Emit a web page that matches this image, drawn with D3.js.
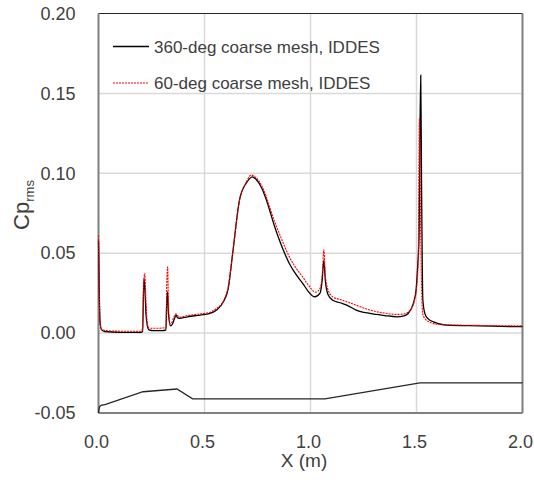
<!DOCTYPE html>
<html>
<head>
<meta charset="utf-8">
<script src="https://cdn.jsdelivr.net/npm/d3@7"></script>
<style>
  body { margin: 0; background: #fff; }
  text { font-family: "Liberation Sans", Arial, sans-serif; fill: #404040; }
</style>
</head>
<body>
<div id="chart"></div>
<script>
// data
var x360 = [0, 0.003, 0.008, 0.015, 0.03, 0.1, 0.2, 0.208, 0.214, 0.218, 0.224, 0.23, 0.238, 0.26, 0.3, 0.318, 0.322, 0.326, 0.33, 0.34, 0.35, 0.358, 0.366, 0.372, 0.381, 0.42, 0.479, 0.526, 0.557, 0.589, 0.612, 0.633, 0.665, 0.696, 0.712, 0.725, 0.745, 0.767, 0.79, 0.807, 0.83, 0.854, 0.9, 0.93, 0.964, 0.99, 1.019, 1.045, 1.055, 1.063, 1.07, 1.083, 1.105, 1.14, 1.171, 1.215, 1.281, 1.35, 1.407, 1.44, 1.461, 1.485, 1.498, 1.506, 1.512, 1.516, 1.52, 1.524, 1.53, 1.54, 1.553, 1.58, 1.64, 1.8, 1.9, 2.0];
var cp360 = [0.058, 0.03, 0.006, 0.002, 0.001, 0.0005, 0.0005, 0.001, 0.034, 0.03, 0.012, 0.005, 0.002, 0.0015, 0.0015, 0.002, 0.02, 0.0258, 0.012, 0.0046, 0.006, 0.009, 0.0113, 0.0098, 0.0092, 0.0102, 0.0113, 0.0123, 0.0144, 0.0196, 0.028, 0.05, 0.0832, 0.0937, 0.0965, 0.0978, 0.096, 0.0916, 0.084, 0.077, 0.067, 0.058, 0.0436, 0.037, 0.031, 0.026, 0.0227, 0.025, 0.033, 0.0457, 0.033, 0.024, 0.0206, 0.019, 0.0175, 0.0144, 0.0123, 0.011, 0.0102, 0.0108, 0.0123, 0.0186, 0.027, 0.043, 0.06, 0.12, 0.1614, 0.09, 0.0206, 0.012, 0.0092, 0.007, 0.005, 0.0045, 0.0042, 0.004];

var x60 = [0, 0.002, 0.006, 0.012, 0.02, 0.04, 0.1, 0.2, 0.208, 0.213, 0.218, 0.224, 0.23, 0.24, 0.28, 0.318, 0.322, 0.326, 0.33, 0.336, 0.345, 0.355, 0.366, 0.381, 0.42, 0.479, 0.526, 0.557, 0.589, 0.612, 0.633, 0.665, 0.696, 0.72, 0.745, 0.767, 0.79, 0.807, 0.83, 0.854, 0.9, 0.93, 0.964, 0.99, 1.025, 1.045, 1.055, 1.063, 1.07, 1.083, 1.105, 1.14, 1.171, 1.215, 1.281, 1.35, 1.407, 1.44, 1.47, 1.49, 1.5, 1.508, 1.514, 1.52, 1.529, 1.54, 1.56, 1.6, 1.7, 1.8, 1.9, 2.0];
var cp60 = [0.0613, 0.04, 0.01, 0.003, 0.002, 0.0015, 0.0012, 0.0012, 0.003, 0.03, 0.0374, 0.02, 0.006, 0.003, 0.003, 0.0035, 0.03, 0.0415, 0.02, 0.006, 0.0065, 0.01, 0.012, 0.01, 0.011, 0.012, 0.013, 0.0155, 0.02, 0.029, 0.05, 0.083, 0.094, 0.0989, 0.097, 0.093, 0.086, 0.079, 0.07, 0.062, 0.0478, 0.041, 0.035, 0.03, 0.0256, 0.028, 0.036, 0.0521, 0.036, 0.027, 0.0227, 0.021, 0.0196, 0.0175, 0.0144, 0.0125, 0.0117, 0.012, 0.0144, 0.02, 0.028, 0.045, 0.1344, 0.06, 0.0123, 0.009, 0.007, 0.0055, 0.005, 0.0048, 0.0046, 0.0045];

// geometry profile drawn below the curves
var xGeom = [0, 0.002, 0.005, 0.012, 0.034, 0.21, 0.37, 0.444, 1.068, 1.516, 2.0];
var yGeom = [-0.05, -0.0478, -0.0461, -0.0452, -0.0446, -0.0367, -0.035, -0.0411, -0.0411, -0.0311, -0.0311];

var xTicks = [0, 0.5, 1.0, 1.5, 2.0];
var yTicks = [-0.05, 0, 0.05, 0.10, 0.15, 0.20];
var legendNames = ["360-deg coarse mesh, IDDES", "60-deg coarse mesh, IDDES"];

var svgWidth = 534;
var svgHeight = 480;
var margin = { top: 13.5, right: 11.5, bottom: 67, left: 98.5 };
var chartWidth = svgWidth - margin.left - margin.right;
var chartHeight = svgHeight - margin.top - margin.bottom;

var svg = d3.select("#chart").append("svg")
  .attr("width", svgWidth)
  .attr("height", svgHeight);

var chartGroup = svg.append("g")
  .attr("transform", `translate(${margin.left}, ${margin.top})`);

var xScale = d3.scaleLinear().domain([0, 2]).range([0, chartWidth]);
var yScale = d3.scaleLinear().domain([-0.05, 0.2]).range([chartHeight, 0]);

// gridlines
chartGroup.selectAll(".hgrid")
  .data(yTicks.filter(d => d > -0.05 && d < 0.2))
  .enter().append("line")
  .attr("x1", 0).attr("x2", chartWidth)
  .attr("y1", d => yScale(d)).attr("y2", d => yScale(d))
  .attr("stroke", "#d9d9d9").attr("stroke-width", 1.5);

chartGroup.selectAll(".vgrid")
  .data(xTicks.filter(d => d > 0 && d < 2))
  .enter().append("line")
  .attr("x1", d => xScale(d)).attr("x2", d => xScale(d))
  .attr("y1", 0).attr("y2", chartHeight)
  .attr("stroke", "#d9d9d9").attr("stroke-width", 1.5);

// axes (labels only, no tick marks), plain hyphen for negatives
var fmtY = d => d3.format(".2f")(d).replace("\u2212", "-");
var bottomAxis = d3.axisBottom(xScale).tickValues(xTicks).tickSize(0).tickPadding(22)
  .tickFormat(d3.format(".1f"));
var leftAxis = d3.axisLeft(yScale).tickValues(yTicks).tickSize(0).tickPadding(23)
  .tickFormat(fmtY);

var gx = chartGroup.append("g")
  .attr("transform", `translate(0, ${chartHeight})`)
  .call(bottomAxis);
var gy = chartGroup.append("g").call(leftAxis);

[gx, gy].forEach(function(g) {
  g.select(".domain").remove();
  g.selectAll("text").style("font-size", "18px").attr("fill", "#404040");
});
gx.selectAll("text").attr("dx", -2.5);

// frame
chartGroup.append("line").attr("x1", 0).attr("x2", chartWidth).attr("y1", 0).attr("y2", 0)
  .attr("stroke", "#262626").attr("stroke-width", 1);
chartGroup.append("line").attr("x1", 0).attr("x2", 0).attr("y1", 0).attr("y2", chartHeight)
  .attr("stroke", "#808080").attr("stroke-width", 2);
chartGroup.append("line").attr("x1", chartWidth).attr("x2", chartWidth).attr("y1", 0).attr("y2", chartHeight)
  .attr("stroke", "#808080").attr("stroke-width", 2);
chartGroup.append("line").attr("x1", 0).attr("x2", chartWidth).attr("y1", chartHeight).attr("y2", chartHeight)
  .attr("stroke", "#808080").attr("stroke-width", 2);

// lines
var line = d3.line()
  .x(d => xScale(d[0]))
  .y(d => yScale(d[1]))
  .curve(d3.curveMonotoneX);

chartGroup.append("path")
  .datum(d3.zip(xGeom, yGeom))
  .attr("d", d3.line().x(d => xScale(d[0])).y(d => yScale(d[1])))
  .attr("fill", "none").attr("stroke", "#262626").attr("stroke-width", 1.3);

chartGroup.append("path")
  .datum(d3.zip(x360, cp360))
  .attr("d", line)
  .attr("fill", "none").attr("stroke", "#000").attr("stroke-width", 1.3);

chartGroup.append("path")
  .datum(d3.zip(x60, cp60))
  .attr("d", line)
  .attr("fill", "none").attr("stroke", "#ff0000").attr("stroke-width", 1.1)
  .attr("stroke-dasharray", "2,1");

// legend
var legend = svg.append("g");
legend.append("line").attr("x1", 113).attr("x2", 149).attr("y1", 46.5).attr("y2", 46.5)
  .attr("stroke", "#000").attr("stroke-width", 1.3);
legend.append("line").attr("x1", 113).attr("x2", 149).attr("y1", 83).attr("y2", 83)
  .attr("stroke", "#ff0000").attr("stroke-width", 1.1).attr("stroke-dasharray", "2,1");
legend.selectAll("text")
  .data(legendNames)
  .enter().append("text")
  .attr("x", 154)
  .attr("y", (d, i) => 52.5 + i * 36.5)
  .style("font-size", "17px")
  .attr("fill", "#000")
  .text(d => d);

// axis titles
var yTitle = svg.append("text")
  .attr("transform", "translate(29, 205) rotate(-90)")
  .attr("text-anchor", "middle")
  .style("font-size", "22px")
  .attr("fill", "#000");
yTitle.append("tspan").text("Cp");
yTitle.append("tspan").attr("dy", 5).style("font-size", "13px").text("rms");

svg.append("text")
  .attr("x", 304)
  .attr("y", 467)
  .attr("text-anchor", "middle")
  .style("font-size", "19px")
  .attr("fill", "#000")
  .text("X (m)");
</script>
</body>
</html>
